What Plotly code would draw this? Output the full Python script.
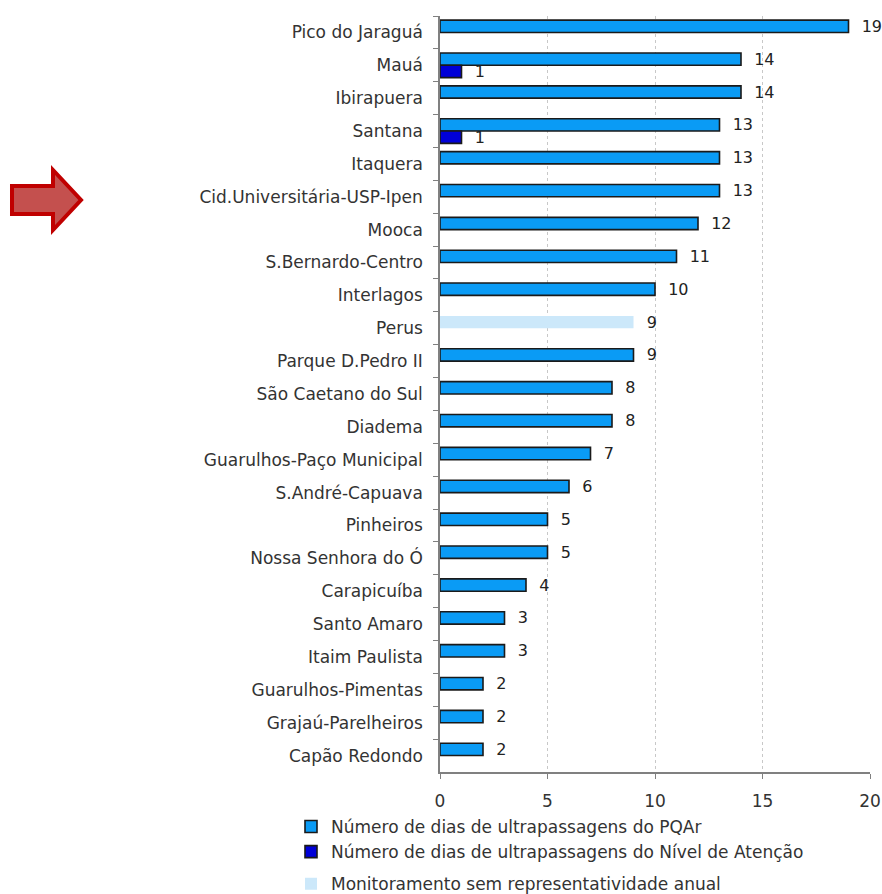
import plotly.graph_objects as go

stations = ["Pico do Jaraguá", "Mauá", "Ibirapuera", "Santana", "Itaquera",
            "Cid.Universitária-USP-Ipen", "Mooca", "S.Bernardo-Centro", "Interlagos",
            "Perus", "Parque D.Pedro II", "São Caetano do Sul", "Diadema",
            "Guarulhos-Paço Municipal", "S.André-Capuava", "Pinheiros",
            "Nossa Senhora do Ó", "Carapicuíba", "Santo Amaro", "Itaim Paulista",
            "Guarulhos-Pimentas", "Grajaú-Parelheiros", "Capão Redondo"]
pqar = [19, 14, 14, 13, 13, 13, 12, 11, 10, None, 9, 8, 8, 7, 6, 5, 5, 4, 3, 3, 2, 2, 2]
sem_repr = [None, None, None, None, None, None, None, None, None, 9,
            None, None, None, None, None, None, None, None, None, None, None, None, None]
atencao = [None, 1, None, 1, None, None, None, None, None, None, None, None, None,
           None, None, None, None, None, None, None, None, None, None]

names = ["Número de dias de ultrapassagens do PQAr",
         "Número de dias de ultrapassagens do Nível de Atenção",
         "Monitoramento sem representatividade anual"]

W, H = 882, 894
L, R, T, B = 440, 870, 16, 772
def px(x):
    return (x - L) / (R - L)
def py(y):
    return (B - y) / (B - T)

FONT = "DejaVu Sans"
FS = 17
txtfont = dict(family=FONT, size=16, color="#222222")
PAD = "\u00a0\u00a0"

def labels(vals):
    return [PAD + str(v) if v is not None else "" for v in vals]

fig = go.Figure()
fig.add_trace(go.Bar(
    y=stations, x=pqar, orientation="h", name=names[0], offsetgroup="a",
    legendgroup="g1",
    marker=dict(color="#0A9BF5", line=dict(color="#1a1a1a", width=1.6)),
    text=labels(pqar),
    textposition="outside", textfont=txtfont, cliponaxis=False, constraintext="none",
))
fig.add_trace(go.Bar(
    y=stations, x=atencao, orientation="h", name=names[1], offsetgroup="b",
    legendgroup="g1",
    marker=dict(color="#0000D8", line=dict(color="#1a1a1a", width=1.6)),
    text=labels(atencao),
    textposition="outside", textfont=txtfont, cliponaxis=False, constraintext="none",
))
fig.add_trace(go.Bar(
    y=stations, x=sem_repr, orientation="h", name=names[2], offsetgroup="a",
    legendgroup="g2",
    marker=dict(color="#CCE8FA", line=dict(width=0)),
    text=labels(sem_repr),
    textposition="outside", textfont=txtfont, cliponaxis=False, constraintext="none",
))

arrow = [(12, 186), (53, 186), (53, 170), (81, 200), (53, 230), (53, 214), (12, 214)]
path = "M " + " L ".join(f"{px(a):.5f},{py(b):.5f}" for a, b in arrow) + " Z"
fig.add_shape(type="path", xref="paper", yref="paper", path=path,
              fillcolor="#C4504E", line=dict(color="#C00000", width=4), layer="above")

fig.update_layout(
    width=W, height=H,
    margin=dict(l=L, r=W - R, t=T, b=H - B, autoexpand=False),
    paper_bgcolor="white", plot_bgcolor="white",
    barmode="group", bargap=0.25, bargroupgap=0,
    font=dict(family=FONT, size=FS, color="#333333"),
    showlegend=True,
    legend=dict(x=px(291), y=py(809), xanchor="left", yanchor="top",
                traceorder="grouped", tracegroupgap=7,
                font=dict(family=FONT, size=FS, color="#333333"),
                bgcolor="rgba(0,0,0,0)", itemwidth=30),
)
fig.update_xaxes(range=[0, 20], dtick=5, tick0=0, showgrid=True, gridcolor="#c8c8c8",
                 griddash="dot", gridwidth=1, showline=True, linecolor="#808080",
                 linewidth=1.5, ticks="outside", ticklen=5, tickcolor="#808080",
                 ticklabelstandoff=8,
                 tickfont=dict(family=FONT, size=FS, color="#333333"), zeroline=False)
fig.update_yaxes(type="category", categoryorder="array", categoryarray=stations,
                 autorange="reversed", showline=True, linecolor="#808080", linewidth=1.5,
                 ticks="outside", ticklen=5, tickcolor="#808080", tickson="boundaries",
                 ticklabelstandoff=12,
                 tickfont=dict(family=FONT, size=FS, color="#333333"), showgrid=False)

fig.write_html("out.html", config={"displayModeBar": False},
               post_script="document.body.style.margin='0';")
